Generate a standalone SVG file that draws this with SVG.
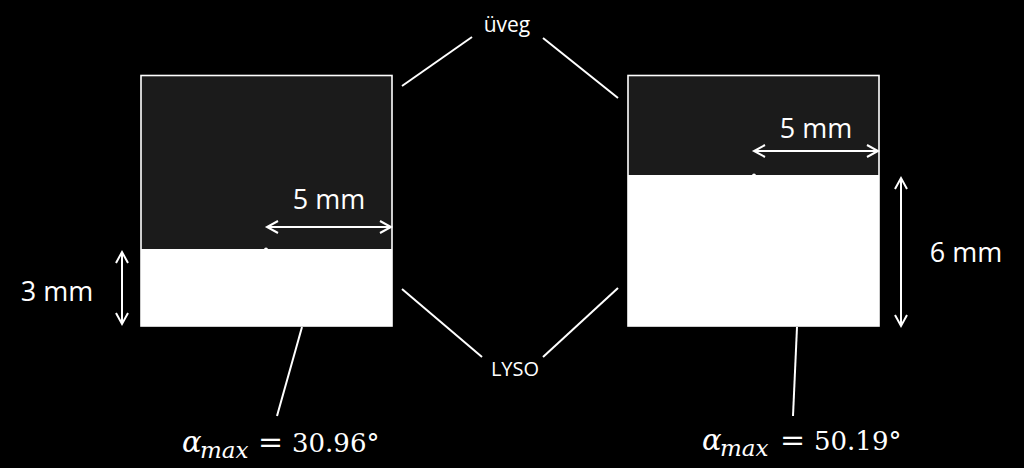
<svg xmlns="http://www.w3.org/2000/svg" width="1024" height="468" viewBox="0 0 1024 468">
<defs>
<marker id="ah" markerUnits="userSpaceOnUse" markerWidth="16" markerHeight="16" refX="12" refY="7" orient="auto-start-reverse">
<path d="M1,1 L12,7 L1,13" fill="none" stroke="#fff" stroke-width="2"/>
</marker>
<style>
.box{fill:#1b1b1b;stroke:#fff;stroke-width:1.6}
.lyso{fill:#fff}
.lead{stroke:#fff;stroke-width:2;fill:none}
.dim{stroke:#fff;stroke-width:2;fill:none;marker-start:url(#ah);marker-end:url(#ah)}
.lbl{fill:#fff;font-family:"Open Sans","Noto Sans",sans-serif}
.math{fill:#fff;font-family:"DejaVu Serif","Liberation Serif",serif}
.it{font-style:italic}
</style>
</defs>
<rect width="1024" height="468" fill="#000"/>

<g id="crystal-left">
<rect class="box" x="141" y="75.5" width="251" height="250.5"/>
<rect class="lyso" x="141" y="249" width="251" height="77"/>
<circle cx="266" cy="249.5" r="2" fill="#fff"/>
</g>

<g id="crystal-right">
<rect class="box" x="628" y="75.5" width="251" height="250.5"/>
<rect class="lyso" x="628" y="175" width="251" height="151"/>
<circle cx="754" cy="175.5" r="2" fill="#fff"/>
</g>

<g id="connectors">
<line class="lead" x1="402" y1="86" x2="472" y2="37"/>
<line class="lead" x1="543" y1="38" x2="618" y2="98"/>
<line class="lead" x1="402" y1="289" x2="482" y2="357"/>
<line class="lead" x1="543" y1="357" x2="618" y2="288"/>
<line class="lead" x1="302" y1="327" x2="277" y2="416"/>
<line class="lead" x1="797" y1="327" x2="793" y2="416"/>
<line class="dim" x1="267" y1="227" x2="391" y2="227"/>
<line class="dim" x1="754" y1="151" x2="878" y2="151"/>
<line class="dim" x1="122" y1="252" x2="122" y2="324"/>
<line class="dim" x1="901" y1="178" x2="901" y2="326"/>
</g>

<g id="label-uveg"><text class="lbl" x="507" y="32" font-size="21" text-anchor="middle">üveg</text></g>
<g id="label-lyso"><text class="lbl" x="515" y="376" font-size="20" text-anchor="middle">LYSO</text></g>
<g id="label-5mm-left"><text class="lbl" x="329" y="209" font-size="27" text-anchor="middle">5 mm</text></g>
<g id="label-5mm-right"><text class="lbl" x="816" y="138" font-size="27" text-anchor="middle">5 mm</text></g>
<g id="label-3mm"><text class="lbl" x="57" y="301" font-size="27" text-anchor="middle">3 mm</text></g>
<g id="label-6mm"><text class="lbl" x="966" y="262" font-size="27" text-anchor="middle">6 mm</text></g>

<g id="label-alpha-left">
<text class="math it" x="182" y="452" font-size="29">α</text>
<text class="math it" x="200" y="458" font-size="23">max</text>
<text class="math" x="258" y="452" font-size="30">=</text>
<text class="math" x="292" y="452" font-size="26">30.96°</text>
</g>
<g id="label-alpha-right">
<text class="math it" x="702" y="450" font-size="29">α</text>
<text class="math it" x="720" y="456" font-size="23">max</text>
<text class="math" x="780" y="450" font-size="30">=</text>
<text class="math" x="814" y="450" font-size="26">50.19°</text>
</g>
</svg>
